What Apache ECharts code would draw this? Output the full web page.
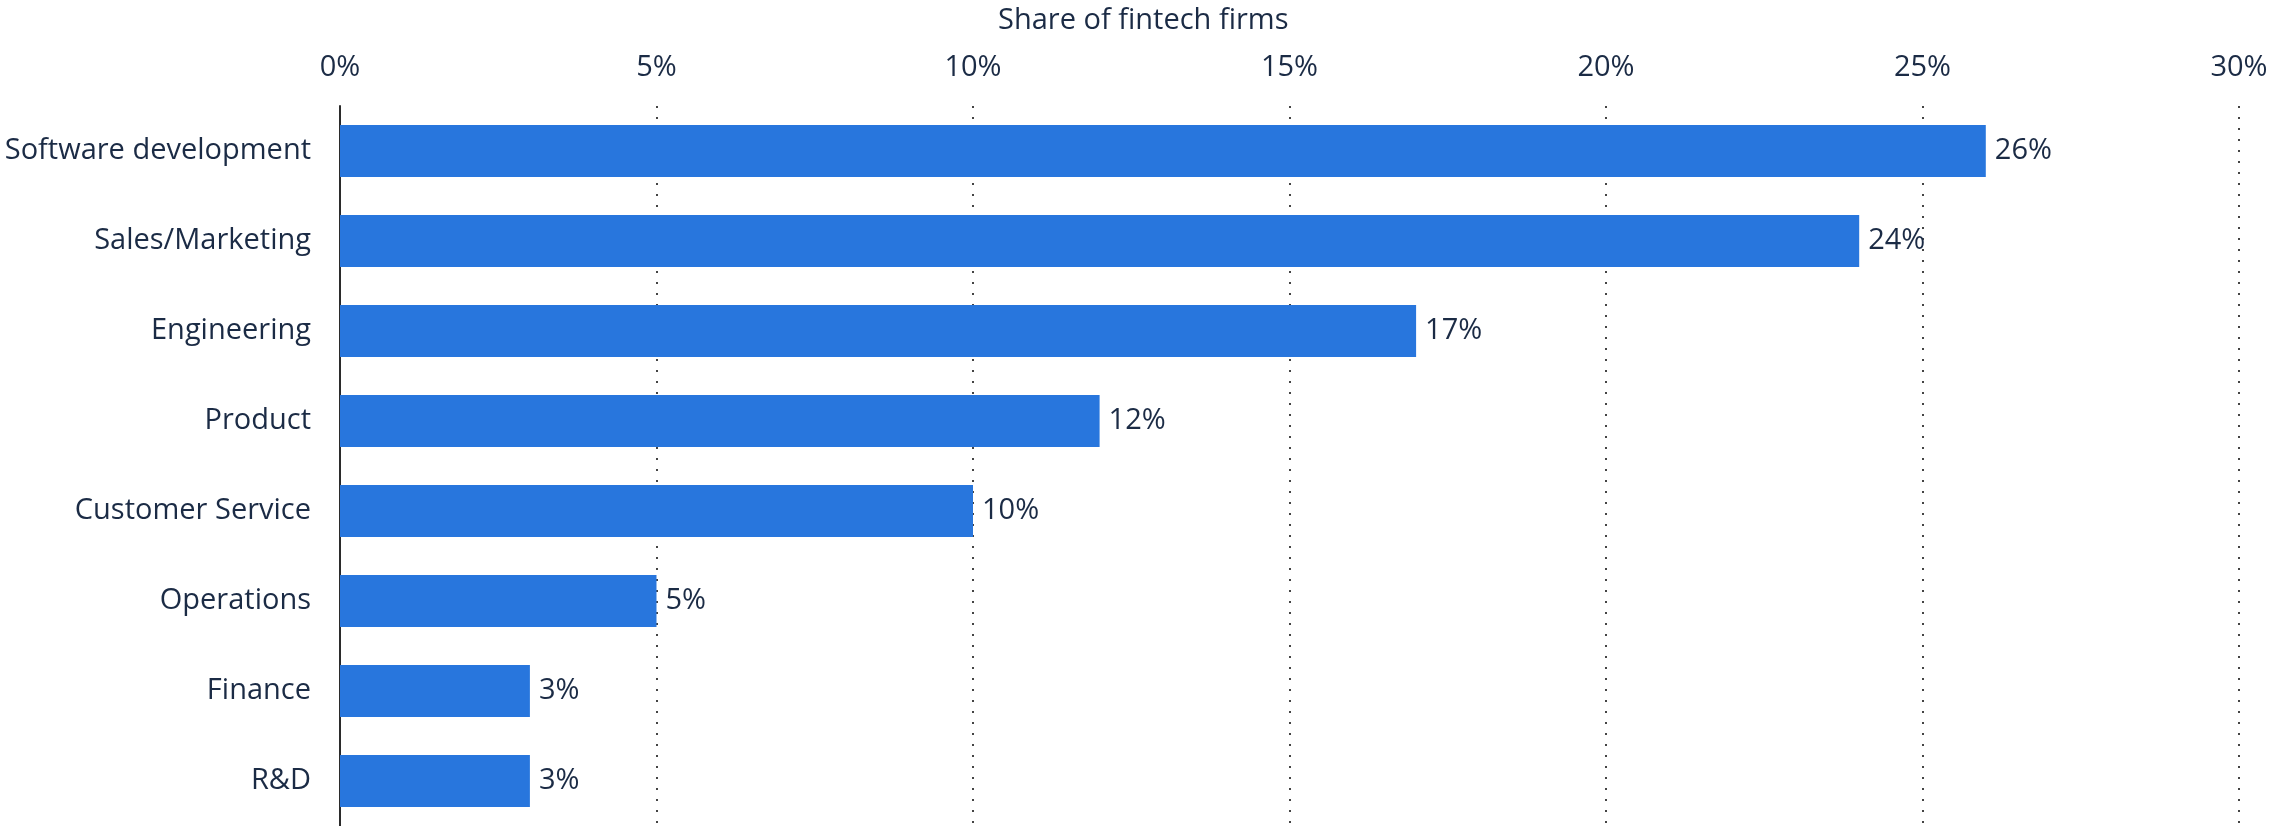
<!DOCTYPE html>
<html>
<head>
<meta charset="utf-8">
<script src="https://cdn.jsdelivr.net/npm/echarts@6/dist/echarts.min.js"></script>
<style>
html,body{margin:0;padding:0;background:#fff;}
#chart{width:2271px;height:826px;}
</style>
</head>
<body>
<div id="chart"></div>
<script>
const categories = ["Software development","Sales/Marketing","Engineering","Product","Customer Service","Operations","Finance","R&D"];
const shares = [26,24,17,12,10,5,3,3];
const axisTitle = "Share of fintech firms";

const textColor = "#1b2b45";
const font = "Open Sans";
const chart = echarts.init(document.getElementById('chart'), null, {renderer:'canvas'});
chart.setOption({
  animation:false,
  backgroundColor:'#ffffff',
  title:{
    text:axisTitle,
    left:993, top:1,
    textStyle:{fontFamily:font,fontSize:29,fontWeight:'normal',color:textColor}
  },
  grid:{left:340,right:32,top:106,bottom:-3,containLabel:false},
  xAxis:{
    type:'value',position:'top',min:0,max:30,interval:5,
    axisLine:{show:false},axisTick:{show:false},
    axisLabel:{formatter:'{value}%',fontFamily:font,fontSize:29,color:textColor,margin:24},
    splitLine:{show:true,lineStyle:{color:'#444',width:2,type:[2,9]}}
  },
  yAxis:{
    type:'category',data:categories,inverse:true,
    axisLine:{show:true,lineStyle:{color:'#2b2b2b',width:2}},
    axisTick:{show:false},
    axisLabel:{fontFamily:font,fontSize:29,color:textColor,margin:29,padding:[6,0,0,0]}
  },
  series:[{
    type:'bar',data:shares,barWidth:52,
    itemStyle:{color:'#2876dd'},
    label:{show:true,position:'right',distance:9,padding:[6,0,0,0],formatter:'{c}%',fontFamily:font,fontSize:29,color:textColor}
  }]
});
</script>
</body>
</html>
